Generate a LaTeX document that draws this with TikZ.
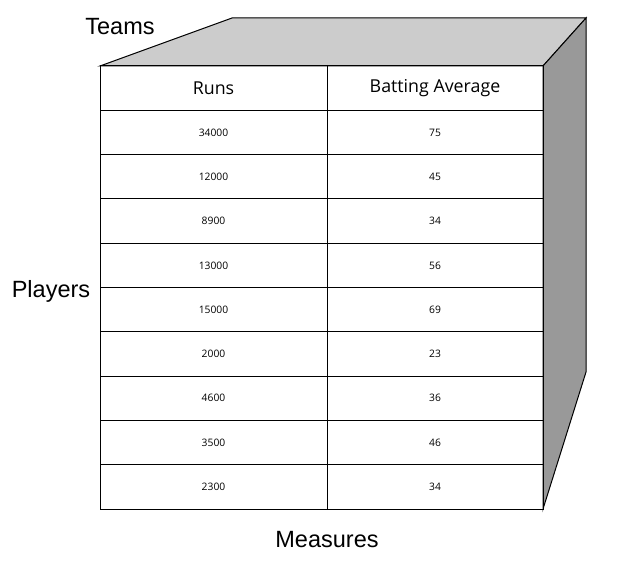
\documentclass[tikz,border=0pt]{standalone}
\usepackage{fontspec}
\setmainfont{Liberation Sans}
\newfontfamily\cellfont{Open Sans}
\definecolor{topgray}{RGB}{204,204,204}
\definecolor{sidegray}{RGB}{153,153,153}
\tikzset{
	axislabel/.style={font=\fontsize{23.5}{26}\selectfont},
	headcell/.style={draw=black, line width=1.0, minimum height=44.3pt, inner sep=0pt, font=\cellfont\fontsize{17.8}{20}\selectfont},
	datacell/.style={draw=black, line width=1.0, minimum height=44.3pt, inner sep=0pt, font=\cellfont\fontsize{10.3}{12}\selectfont},
}
\begin{document}
\begin{tikzpicture}[x=1pt,y=-1pt]
	\useasboundingbox (0,0) rectangle (644,572);
	% cube faces
	\draw [black, line width=1.0, fill=topgray] (100,66) -- (232,18) -- (586,18) -- (543,66) -- cycle;
	\draw [black, line width=1.0, fill=sidegray] (543,66) -- (586,18) -- (586,372) -- (543,509) -- cycle;
	% header row
	\node [headcell, minimum width=227pt] (runs) at (213.5,88.15) {Runs};
	\node [headcell, minimum width=216pt] (avg) at (435,88.15) {Batting Average};
	% data rows
	\foreach \r/\a [count=\i] in {34000/75,12000/45,8900/34,13000/56,15000/69,2000/23,4600/36,3500/46,2300/34}
	{
		\node [datacell, minimum width=227pt] (runs\i) at (213.5,88.15+44.3*\i) {\r};
		\node [datacell, minimum width=216pt] (avg\i) at (435,88.15+44.3*\i) {\a};
	}
	% axis labels
	\node [axislabel] (teams) at (120,27) {Teams};
	\node [axislabel] (players) at (51,291) {Players};
	\node [axislabel] (measures) at (327,540) {Measures};
\end{tikzpicture}
\end{document}
